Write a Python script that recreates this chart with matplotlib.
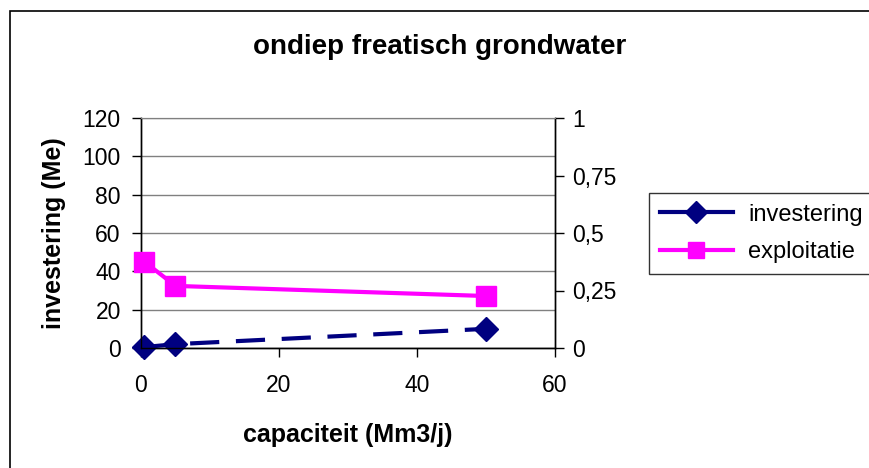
import matplotlib.pyplot as plt
from matplotlib.patches import Rectangle
from matplotlib.lines import Line2D

plt.rcParams['font.family'] = ['Liberation Sans', 'DejaVu Sans']

# capaciteit in Mm3/j
capaciteit = [0.5, 5, 50]
investering = [0.5, 2, 10]          # Me, left axis
exploitatie = [0.375, 0.27, 0.226]  # right axis

left_ticks = [0, 20, 40, 60, 80, 100, 120]
right_ticks = [0, 0.25, 0.5, 0.75, 1]
right_labels = ['0', '0,25', '0,5', '0,75', '1']
x_ticks = [0, 20, 40, 60]

navy = '#000080'
magenta = '#FF00FF'
W, H = 870, 468

fig = plt.figure(figsize=(8.7, 4.68), dpi=100)
ax = fig.add_axes([141 / W, 1 - 348 / H, 414 / W, 230 / H])
ax2 = ax.twinx()

# chart border (right and bottom edges run off the canvas)
fig.patches.append(Rectangle((10 / W, -0.1), 1.0, 1.1 - 11 / H,
                             transform=fig.transFigure, fill=False,
                             edgecolor='black', linewidth=1.2))

ax.set_xlim(0, 60)
ax.set_ylim(0, 120)
ax2.set_ylim(0, 1)
ax.set_xticks(x_ticks)
ax.set_yticks(left_ticks)
ax2.set_yticks(right_ticks)
ax2.set_yticklabels(right_labels)

ax.yaxis.grid(True, color='#808080', linewidth=1.0)
ax.set_axisbelow(True)

for a in (ax, ax2):
    a.tick_params(direction='out', length=6.5, width=1, labelsize=16.5)
    a.spines['top'].set_color('#808080')
    for s in ('left', 'right', 'bottom'):
        a.spines[s].set_linewidth(1.0)

ax.tick_params(axis='x', pad=12)
ax.tick_params(axis='y', pad=8)
ax2.tick_params(axis='y', pad=6)

ax.plot(capaciteit, investering, color=navy, linewidth=3, dashes=(7, 4),
        marker='D', markersize=12, zorder=5, clip_on=False)
ax2.plot(capaciteit, exploitatie, color=magenta, linewidth=3,
         marker='s', markersize=14, zorder=5, clip_on=False)

ax.set_xlabel('capaciteit (Mm3/j)', fontsize=18, fontweight='bold', labelpad=19)
ax.set_ylabel('investering (Me)', fontsize=18, fontweight='bold', labelpad=12)

fig.text(0.505, 1 - 47 / H, 'ondiep freatisch grondwater', ha='center',
         va='center', fontsize=20, fontweight='bold')

handles = [
    Line2D([], [], color=navy, linewidth=3, marker='D', markersize=11),
    Line2D([], [], color=magenta, linewidth=3, marker='s', markersize=11),
]
leg = fig.legend(handles, ['investering', 'exploitatie'],
                 loc='upper left', bbox_to_anchor=(649 / W, 1 - 193 / H),
                 fontsize=17, frameon=True, fancybox=False,
                 edgecolor='black', borderpad=0.45, handlelength=3.1,
                 handletextpad=0.65, labelspacing=0.65, borderaxespad=0)
leg.get_frame().set_linewidth(1.0)

fig.savefig('out.png', dpi=100)
